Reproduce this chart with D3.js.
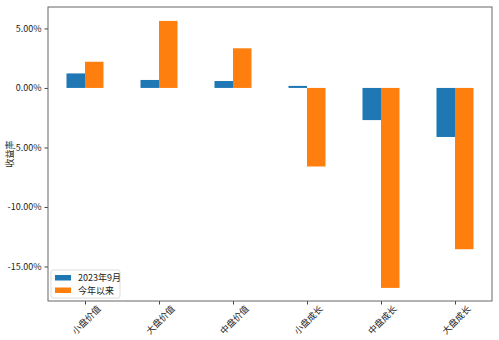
<!DOCTYPE html>
<html><head><meta charset="utf-8">
<script src="https://cdn.jsdelivr.net/npm/d3@7"></script>
<style>body{margin:0;background:#fff}svg{display:block}text{font-family:"Noto Sans CJK SC","DejaVu Sans",sans-serif}</style>
</head><body><svg id="c" width="499" height="340"></svg>
<script>
const categories = ["小盘价值","大盘价值","中盘价值","小盘成长","中盘成长","大盘成长"];
const seriesNames = ["2023年9月","今年以来"];
const sep2023 = [1.22, 0.67, 0.58, 0.17, -2.70, -4.12];
const ytd = [2.20, 5.63, 3.33, -6.60, -16.80, -13.55];
const yTicks = [5, 0, -5, -10, -15];
const colors = ["#1f77b4","#ff7f0e"];

const W=499,H=340, m={l:48,r:7,t:7,b:39};
const svg=d3.select("#c");
const x=d3.scaleLinear().domain([-0.5,categories.length-0.5]).range([m.l,W-m.r]);
const y=d3.scaleLinear().domain([-17.9,6.8]).range([H-m.b,m.t]);
const bw=0.25;
const data=[sep2023,ytd];
data.forEach((vals,si)=>{
  svg.append("g").selectAll("rect").data(vals).join("rect")
    .attr("x",(d,i)=>x(i-bw+si*bw))
    .attr("width",x(bw)-x(0))
    .attr("y",d=>Math.min(y(d),y(0)))
    .attr("height",d=>Math.abs(y(d)-y(0)))
    .attr("fill",colors[si]);
});
// axes
const ya=d3.axisLeft(y).tickValues(yTicks).tickSize(3.5).tickPadding(3).tickFormat(d=>(d<0?"-":"")+Math.abs(d).toFixed(2)+"%");
const gy=svg.append("g").attr("transform",`translate(${m.l},0)`).call(ya);
gy.select(".domain").remove();
gy.selectAll("text").attr("font-size",9).attr("fill","#222");
gy.selectAll("line").attr("stroke","#444");
const xa=d3.axisBottom(x).tickValues(d3.range(categories.length)).tickSize(3.5).tickFormat(i=>categories[i]);
const gx=svg.append("g").attr("transform",`translate(0,${H-m.b})`).call(xa);
gx.select(".domain").remove();
gx.selectAll("line").attr("stroke","#444");
gx.selectAll("text").attr("font-size",9).attr("fill","#222")
  .attr("text-anchor","middle").attr("dy","0.35em").attr("y",0)
  .attr("transform","translate(1,19) rotate(-45)");
svg.append("rect").attr("x",m.l).attr("y",m.t).attr("width",W-m.l-m.r).attr("height",H-m.t-m.b)
  .attr("fill","none").attr("stroke","#666").attr("stroke-width",1);
svg.append("text").attr("transform",`translate(13,${(m.t+H-m.b)/2}) rotate(-90)`)
  .attr("text-anchor","middle").attr("font-size",9).attr("fill","#222").text("收益率");
// legend
const lg=svg.append("g").attr("transform",`translate(51,270)`);
lg.append("rect").attr("width",69).attr("height",28).attr("rx",2).attr("fill","#fff").attr("fill-opacity",0.8).attr("stroke","#ddd");
seriesNames.forEach((n,i)=>{
  lg.append("rect").attr("x",4).attr("y",5+i*12.5).attr("width",16).attr("height",5.5).attr("fill",colors[i]);
  lg.append("text").attr("x",27).attr("y",11+i*12.5).attr("font-size",9).attr("fill","#222").text(n);
});
</script></body></html>
